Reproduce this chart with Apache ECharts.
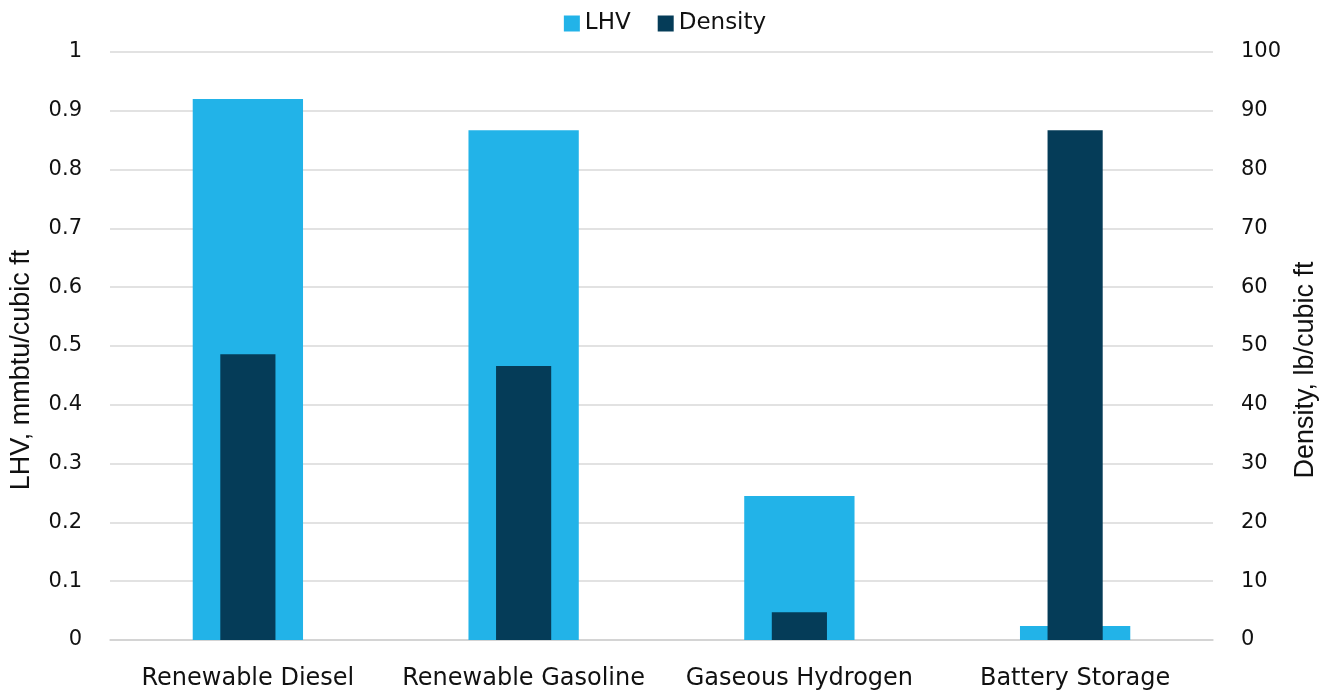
<!DOCTYPE html>
<html>
<head>
<meta charset="utf-8">
<script src="https://cdn.jsdelivr.net/npm/echarts@6/dist/echarts.min.js"></script>
<style>
  html, body { margin: 0; padding: 0; background: #fff; }
  #chart { width: 1330px; height: 694px; }
</style>
</head>
<body>
<div id="chart"></div>
<script>
const categories = ['Renewable Diesel', 'Renewable Gasoline', 'Gaseous Hydrogen', 'Battery Storage']
const lhvValues = [0.92, 0.867, 0.245, 0.024]
const densityValues = [48.6, 46.6, 4.7, 86.7]

const labelFont = '"DejaVu Sans", sans-serif'
const titleFont = '"Liberation Sans", Arial, sans-serif'

const chart = echarts.init(document.getElementById('chart'))

const option = {
  animation: false,
  legend: {
    top: 7,
    left: 'center',
    itemWidth: 16,
    itemHeight: 16,
    itemGap: 27,
    icon: 'rect',
    textStyle: { fontFamily: labelFont, fontSize: 23, color: '#111' },
    data: ['LHV', 'Density']
  },
  grid: { left: 110, right: 117, top: 52, bottom: 54, outerBoundsMode: 'none' },
  xAxis: [
    {
      type: 'category',
      data: categories,
      axisTick: { show: false },
      axisLine: { lineStyle: { color: '#d0d0d0', width: 1.5 } },
      axisLabel: { fontFamily: labelFont, fontSize: 24, color: '#111', margin: 27, interval: 0 }
    },
    {
      type: 'category',
      data: categories,
      show: false
    }
  ],
  yAxis: [
    {
      type: 'value',
      min: 0,
      max: 1,
      interval: 0.1,
      name: 'LHV, mmbtu/cubic ft',
      nameLocation: 'middle',
      nameGap: 75,
      nameTextStyle: { fontFamily: titleFont, fontSize: 27, color: '#111', padding: [0, 48, 0, 0] },
      axisLine: { show: false },
      axisTick: { show: false },
      axisLabel: { fontFamily: labelFont, fontSize: 21, color: '#111', margin: 28 },
      splitLine: { lineStyle: { color: '#d9d9d9', width: 1.5 } }
    },
    {
      type: 'value',
      min: 0,
      max: 100,
      interval: 10,
      name: 'Density, lb/cubic ft',
      nameLocation: 'middle',
      nameGap: 78,
      nameTextStyle: { fontFamily: titleFont, fontSize: 27, color: '#111', padding: [0, 48, 0, 0] },
      axisLine: { show: false },
      axisTick: { show: false },
      axisLabel: { fontFamily: labelFont, fontSize: 21, color: '#111', margin: 28 },
      splitLine: { show: false }
    }
  ],
  series: [
    {
      name: 'LHV',
      type: 'bar',
      xAxisIndex: 0,
      yAxisIndex: 0,
      barWidth: '40%',
      itemStyle: { color: '#22b3e8' },
      data: lhvValues
    },
    {
      name: 'Density',
      type: 'bar',
      xAxisIndex: 1,
      yAxisIndex: 1,
      barWidth: '20%',
      itemStyle: { color: '#053c58' },
      data: densityValues
    }
  ]
}

chart.setOption(option)
window.addEventListener('resize', () => chart.resize())
</script>
</body>
</html>
